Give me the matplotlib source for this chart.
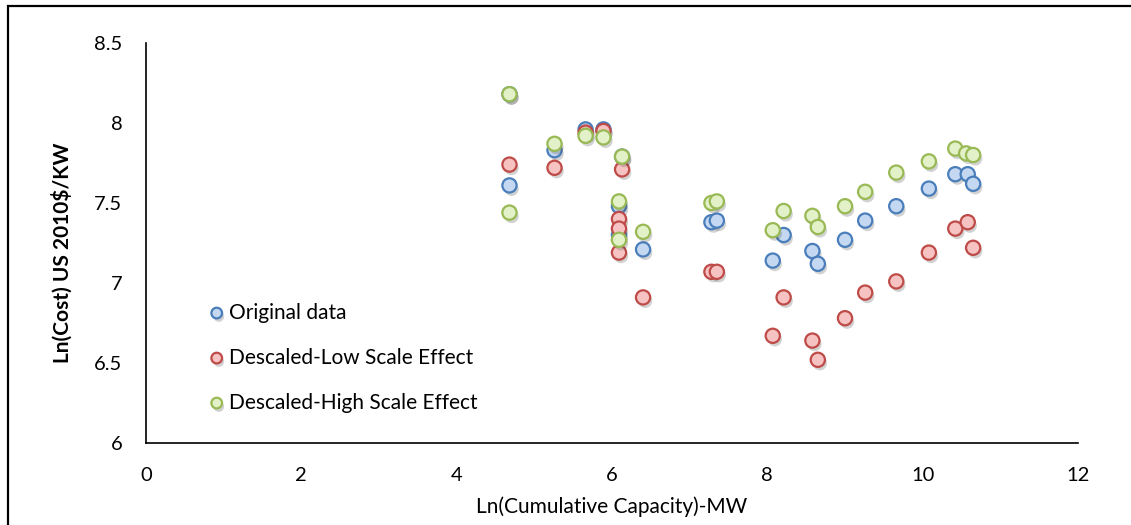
import matplotlib
matplotlib.use("Agg")
import matplotlib.pyplot as plt
import matplotlib.patheffects as pe
from matplotlib.patches import Rectangle

plt.rcParams["font.family"] = ["Lato", "DejaVu Sans"]

# ln(cumulative capacity, MW)
x_original = [4.68, 4.68, 5.26, 5.66, 5.89, 6.09, 6.09, 6.13, 6.40, 7.28, 7.35,
              8.07, 8.21, 8.58, 8.65, 9.00, 9.26, 9.66, 10.08, 10.42, 10.58, 10.65]
y_original = [8.18, 7.61, 7.83, 7.96, 7.96, 7.48, 7.30, 7.79, 7.21, 7.38, 7.39,
              7.14, 7.30, 7.20, 7.12, 7.27, 7.39, 7.48, 7.59, 7.68, 7.68, 7.62]

x_low = [4.68, 5.26, 5.66, 5.89, 6.13, 6.09, 6.09, 6.09, 6.40, 7.28, 7.35,
         8.07, 8.21, 8.58, 8.65, 9.00, 9.26, 9.66, 10.08, 10.42, 10.58, 10.65]
y_low = [7.74, 7.72, 7.94, 7.95, 7.71, 7.40, 7.34, 7.19, 6.91, 7.07, 7.07,
         6.67, 6.91, 6.64, 6.52, 6.78, 6.94, 7.01, 7.19, 7.34, 7.38, 7.22]

x_high = [4.68, 4.68, 5.26, 5.66, 5.89, 6.13, 6.09, 6.09, 6.40, 7.28, 7.35,
          8.07, 8.21, 8.58, 8.65, 9.00, 9.26, 9.66, 10.08, 10.42, 10.56, 10.65]
y_high = [8.18, 7.44, 7.87, 7.92, 7.91, 7.79, 7.51, 7.27, 7.32, 7.50, 7.51,
          7.33, 7.45, 7.42, 7.35, 7.48, 7.57, 7.69, 7.76, 7.84, 7.81, 7.80]

series = [
    ("Original data", x_original, y_original, "#c5d8f1", "#4a7ebb"),
    ("Descaled-Low Scale Effect", x_low, y_low, "#f6c3c2", "#be4b48"),
    ("Descaled-High Scale Effect", x_high, y_high, "#e3f1c9", "#98b954"),
]

fig = plt.figure(figsize=(11.31, 5.25), dpi=100)
ax = fig.add_axes([146 / 1131, 82 / 525, 932 / 1131, 400 / 525])

shadow = [pe.SimplePatchShadow(offset=(1.5, -2.5), shadow_rgbFace="0.3", alpha=0.25),
          pe.Normal()]
for label, xs, ys, face, edge in series:
    ax.scatter(xs, ys, s=105, c=face, edgecolors=edge, linewidths=1.6,
               label=label, zorder=3, path_effects=shadow)

ax.set_xlim(0, 12)
ax.set_ylim(6, 8.5)
ax.set_xticks(range(0, 13, 2))
ax.set_yticks([6, 6.5, 7, 7.5, 8, 8.5])
ax.set_yticklabels(["6", "6.5", "7", "7.5", "8", "8.5"])
ax.tick_params(length=0, labelsize=14.5, pad=17)
for side in ["top", "right"]:
    ax.spines[side].set_visible(False)
for side in ["left", "bottom"]:
    ax.spines[side].set_linewidth(1.2)

ax.set_xlabel("Ln(Cumulative Capacity)-MW", fontsize=15, labelpad=9)
ax.set_ylabel("Ln(Cost) US 2010$/KW", fontsize=15, fontweight="bold")
ax.yaxis.set_label_coords(-0.079, 0.475)

leg = ax.legend(loc="upper left", bbox_to_anchor=(0.058, 0.372), frameon=False,
                fontsize=15, handlelength=0.8, handletextpad=0.2, labelspacing=1.2,
                borderaxespad=0, scatterpoints=1, markerscale=0.75)

fig.add_artist(Rectangle((7.5 / 1131, -0.05), 1.1, 0.05 + 519.5 / 525,
                         transform=fig.transFigure, fill=False,
                         edgecolor="black", linewidth=1.6))

fig.savefig("out.png", dpi=100)
